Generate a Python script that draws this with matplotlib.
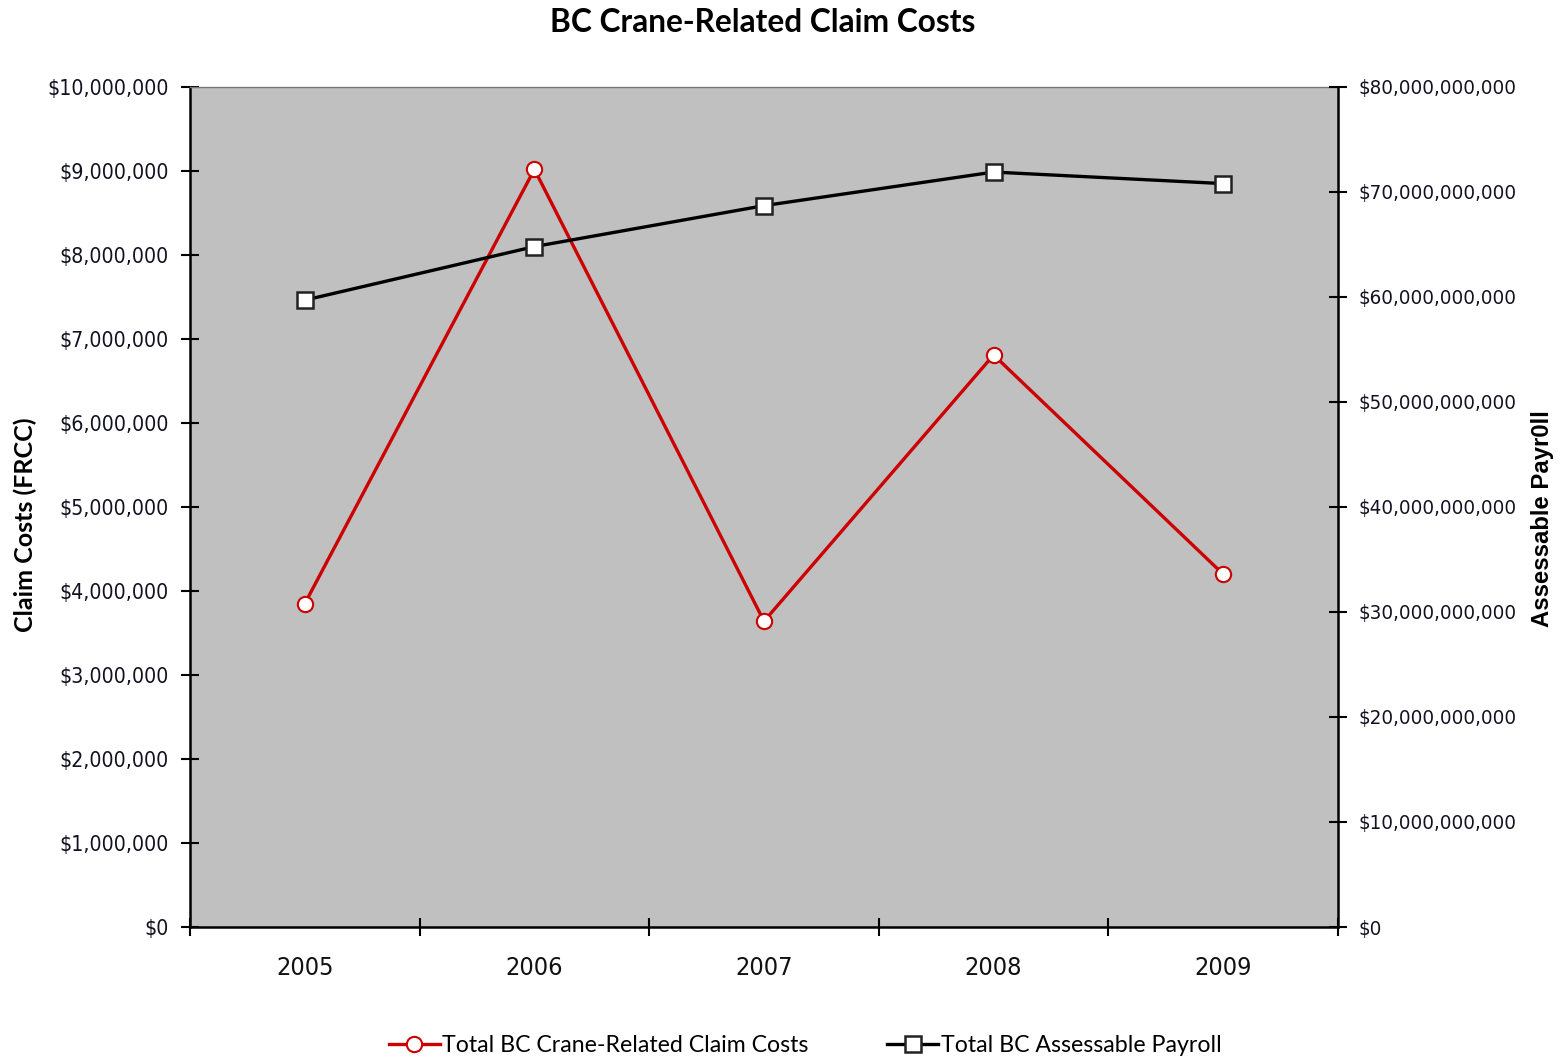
import matplotlib
matplotlib.use("Agg")
import matplotlib.pyplot as plt
from matplotlib.ticker import FuncFormatter, MultipleLocator
from matplotlib import font_manager as fm
from matplotlib.textpath import TextPath

years = ["2005", "2006", "2007", "2008", "2009"]
claim_costs = [3850000, 9020000, 3640000, 6810000, 4200000]
payroll = [59.7e9, 64.8e9, 68.7e9, 71.9e9, 70.8e9]


# pick a narrow / condensed sans font if one is installed
def pick_narrow():
    cands = []
    for f in fm.fontManager.ttflist:
        nm = f.name.lower()
        fn = f.fname.lower()
        narrow = ("narrow" in nm or "condensed" in nm or "narrow" in fn or
                  ("condensed" in fn and "semicondensed" not in fn and "extracondensed" not in fn) or
                  f.stretch in ("condensed",))
        if not narrow or f.style != "normal":
            continue
        if "bold" in fn or "light" in fn or "thin" in fn or "black" in fn or "medium" in fn:
            continue
        if "mono" in nm or "serif" in nm or "mono" in fn or "serif" in fn:
            continue
        if "cjk" in nm:
            continue
        if "liberation" in nm:
            rank = 0
        elif "noto sans" in nm:
            rank = 1
        elif "dejavu" in nm:
            rank = 2
        else:
            rank = 3
        cands.append((rank, f.fname))
    if cands:
        cands.sort()
        return fm.FontProperties(fname=cands[0][1])
    return fm.FontProperties(family="Roboto")


NARROW = pick_narrow()


def fit_size(text, prop, target_px, dpi=100):
    w = TextPath((0, 0), text, size=100, prop=prop).get_extents().width
    return 100 * target_px / w * 72 / dpi


ysize = fit_size("$10,000,000", NARROW, 118)
y2size = fit_size("$80,000,000,000", NARROW, 155)
xsize = fit_size("2005", NARROW, 54)

fig = plt.figure(figsize=(15.64, 10.60), dpi=100)
ax = fig.add_axes([190/1564, 1-927/1060, (1338-190)/1564, (927-87)/1060])
ax.set_facecolor("#C0C0C0")
ax2 = ax.twinx()

x = list(range(len(years)))
l1, = ax.plot(x, claim_costs, color="#CC0000", lw=2.4, marker="o", ms=11,
              mfc="white", mec="#CC0000", mew=1.5, zorder=3,
              label="Total BC Crane-Related Claim Costs")
l2, = ax2.plot(x, payroll, color="black", lw=2.4, marker="s", ms=11,
               mfc="white", mec="#222222", mew=1.8, zorder=3,
               label="Total BC Assessable Payroll")

ax.set_xlim(-0.5, len(years) - 0.5)
ax.set_ylim(0, 10e6)
ax2.set_ylim(0, 80e9)
ax.yaxis.set_major_locator(MultipleLocator(1e6))
ax2.yaxis.set_major_locator(MultipleLocator(10e9))
fmt = FuncFormatter(lambda v, p: "$0" if v == 0 else f"${v:,.0f}")
ax.yaxis.set_major_formatter(fmt)
ax2.yaxis.set_major_formatter(fmt)

ax.set_xticks([i - 0.5 for i in range(len(years) + 1)])
ax.set_xticklabels([])
ax.set_xticks(x, minor=True)
ax.set_xticklabels(years, minor=True)
ax.tick_params(axis="x", which="major", direction="inout", length=13, width=1.5)
ax.tick_params(axis="x", which="minor", length=0, pad=21)
ax.tick_params(axis="y", direction="inout", length=13, width=1.5, pad=8.6)
ax2.tick_params(axis="y", direction="inout", length=13, width=1.5, pad=8.6)

for lab in ax.get_xticklabels(minor=True):
    lab.set_fontproperties(NARROW); lab.set_fontsize(xsize); lab.set_color("#111111")
for lab in ax.get_yticklabels():
    lab.set_fontproperties(NARROW); lab.set_fontsize(ysize); lab.set_color("#111122")
for lab in ax2.get_yticklabels():
    lab.set_fontproperties(NARROW); lab.set_fontsize(y2size); lab.set_color("#111122")

for a in (ax, ax2):
    for s in ("top", "right"):
        a.spines[s].set_visible(False)
    a.spines["left"].set_linewidth(1.8)
    a.spines["bottom"].set_linewidth(1.8)
ax2.spines["right"].set_visible(True)
ax2.spines["right"].set_linewidth(1.8)
ax2.spines["left"].set_visible(False)
ax2.spines["bottom"].set_visible(False)
ax.spines["top"].set_visible(True)
ax.spines["top"].set_color("#777777")
ax.spines["top"].set_linewidth(1.0)

fig.text(763/1564, 1-22/1060, "BC Crane-Related Claim Costs", ha="center", va="center",
         fontfamily=["Lato", "DejaVu Sans"], fontweight="bold", fontsize=22.8)
fig.text(25/1564, 1-525/1060, "Claim Costs (FRCC)", ha="center", va="center", rotation=90,
         fontfamily=["Lato", "DejaVu Sans"], fontweight="bold", fontsize=18)
fig.text(1543/1564, 1-519/1060, "Assessable Payr0ll", ha="center", va="center", rotation=90,
         fontfamily=["Liberation Sans", "DejaVu Sans"], fontweight="bold", fontsize=17.2)

leg = fig.legend([l1, l2], [l1.get_label(), l2.get_label()], loc="center",
                 bbox_to_anchor=(805/1564, 1-1046/1060), ncol=2, frameon=False,
                 prop={"family": ["Lato", "DejaVu Sans"], "size": 16.7},
                 handlelength=2.2, handletextpad=0.1, columnspacing=3.4)

fig.savefig("out.png", dpi=100)
